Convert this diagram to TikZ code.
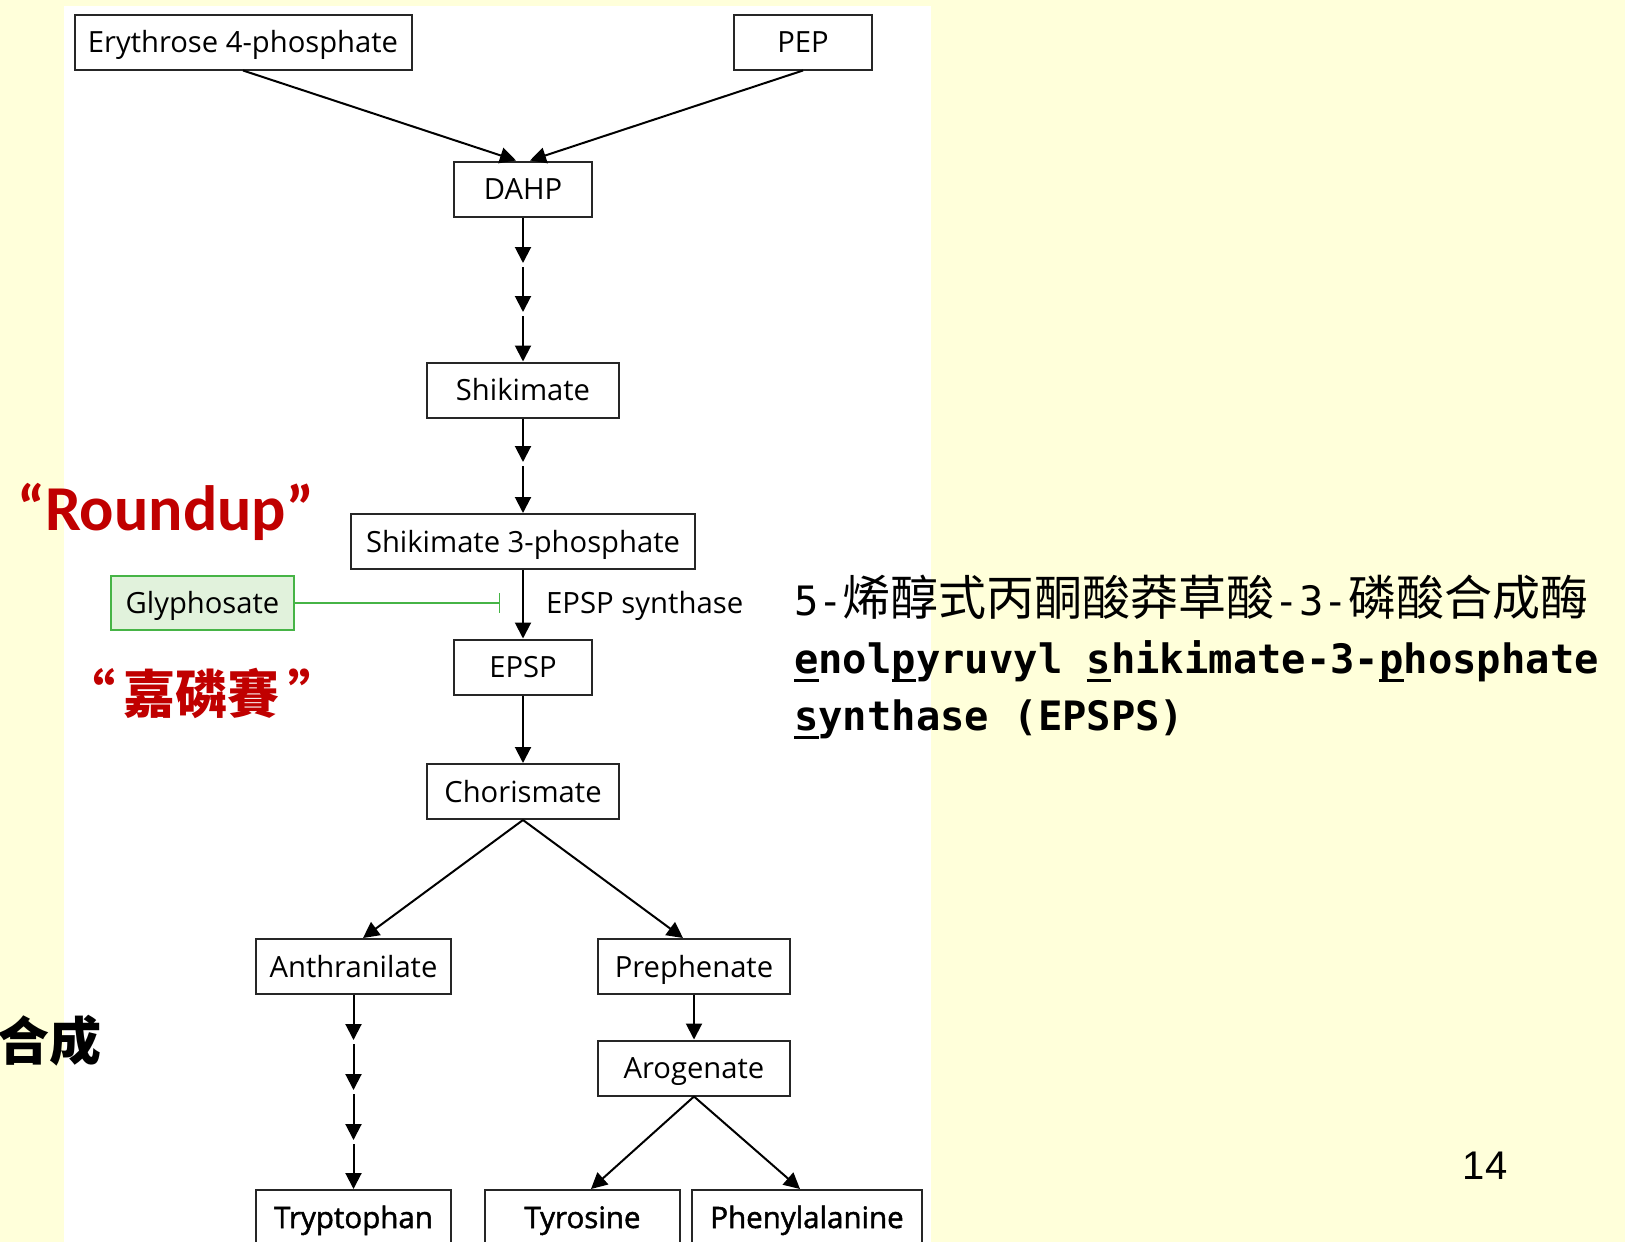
\documentclass[tikz,border=0pt]{standalone}
\usepackage{fontspec}
\setmainfont{Open Sans}
\newfontfamily\boxfont{Open Sans}
\newfontfamily\boxfontb[FakeBold=1.6]{Open Sans}
\newfontfamily\roundfont{Carlito}
\newfontfamily\cjk{Noto Sans CJK SC}
\newfontfamily\cjktc{Noto Sans CJK TC}
\newfontfamily\monofont{DejaVu Sans Mono}
\newfontfamily\numfont{Liberation Sans}
\usetikzlibrary{positioning, arrows.meta, calc}
\definecolor{slidebg}{RGB}{255,255,218}
\definecolor{roundred}{RGB}{192,0,0}
\definecolor{glyline}{RGB}{70,180,70}
\definecolor{glyfill}{RGB}{225,242,220}
\newcommand\halfw[1]{{\monofont\fontsize{40.5}{48}\selectfont #1}}
\newcommand\fullw[1]{{\cjk\fontsize{48}{52}\selectfont #1}}
\newcommand\ulchar[1]{\setbox0\hbox{#1}\rlap{\rule[-9pt]{\wd0}{3pt}}\box0}

\begin{document}
\begin{tikzpicture}[x=1pt, y=-1pt,
        box/.style={rectangle, draw=black!85, line width=2pt, inner sep=0pt, minimum height=55pt, text height=21pt, text depth=0pt, font=\boxfont\fontsize{29.2}{34}\selectfont},
        endbox/.style={box, font=\boxfontb\fontsize{29.5}{34}\selectfont},
        glybox/.style={box, draw=glyline, fill=glyfill, minimum height=54pt},
        flow/.style={-{Triangle[length=16pt, width=16pt]}, line width=2pt},
        inhibit/.style={-{Bar[width=20pt]}, draw=glyline, line width=1.5pt},
    ]
    % slide background and white panel
    \fill[slidebg] (0,0) rectangle (1625,1242);
    \fill[white] (64,6) rectangle (931,1242);
    \useasboundingbox (0,0) rectangle (1625,1242);

    % Pathway boxes
    \node[box, minimum width=337pt] (e4p) at (243,42) {Erythrose 4-phosphate};
    \node[box, minimum width=138pt] (pep) at (803,42) {PEP};
    \node[box, minimum width=138pt] (dahp) at (523,189) {DAHP};
    \node[box, minimum width=192pt] (shik) at (523,390) {Shikimate};
    \node[box, minimum width=344pt] (s3p) at (523,541.5) {Shikimate 3-phosphate};
    \node[glybox, minimum width=183pt] (gly) at (202.5,603) {Glyphosate};
    \node[box, minimum width=138pt] (epsp) at (523,667) {EPSP};
    \node[box, minimum width=192pt] (chor) at (523,791.5) {Chorismate};
    \node[box, minimum width=195pt] (anth) at (353.5,966.5) {Anthranilate};
    \node[box, minimum width=192pt] (preph) at (694,966.5) {Prephenate};
    \node[box, minimum width=192pt] (arog) at (694,1068) {Arogenate};
    \node[endbox, minimum width=195pt] (trp) at (353.5,1217.5) {Tryptophan};
    \node[endbox, minimum width=195pt] (tyr) at (582.5,1217.5) {Tyrosine};
    \node[endbox, minimum width=230pt] (phe) at (807,1217.5) {Phenylalanine};

    % Arrows
    \draw[flow] (e4p.south) -- ([xshift=-7pt]dahp.north);
    \draw[flow] (pep.south) -- ([xshift=7pt]dahp.north);

    \coordinate (d1) at (523,263); \coordinate (d2) at (523,312);
    \draw[flow] (dahp) -- (d1);
    \draw[flow, shorten <=4pt] (d1) -- (d2);
    \draw[flow, shorten <=4pt] (d2) -- (shik);

    \coordinate (s1) at (523,462);
    \draw[flow] (shik) -- (s1);
    \draw[flow, shorten <=4pt] (s1) -- (s3p);

    \draw[flow] (s3p) -- (epsp);
    \coordinate (inh) at (500,603);
    \draw[inhibit] (gly) -- (inh);
    \node[anchor=west, inner sep=0pt, text height=21pt, text depth=0pt, font=\boxfont\fontsize{29.3}{34}\selectfont] (enzyme) at (546,603) {EPSP synthase};

    \draw[flow] (epsp) -- (chor);
    \draw[flow] (chor.south) -- ([xshift=9.5pt]anth.north);
    \draw[flow] (chor.south) -- ([xshift=-11pt]preph.north);

    \coordinate (a1) at (353.5,1040); \coordinate (a2) at (353.5,1090); \coordinate (a3) at (353.5,1140);
    \draw[flow] (anth) -- (a1);
    \draw[flow, shorten <=4pt] (a1) -- (a2);
    \draw[flow, shorten <=4pt] (a2) -- (a3);
    \draw[flow, shorten <=4pt] (a3) -- (trp);

    \draw[flow] (preph) -- (arog);
    \draw[flow] (arog.south) -- ([xshift=8.5pt]tyr.north);
    \draw[flow] (arog.south) -- ([xshift=-7pt]phe.north);

    % Slide labels
    \node[anchor=west, inner sep=0pt, text=roundred, font=\roundfont\bfseries\fontsize{64}{70}\selectfont] (roundup) at (17,512) {“Roundup”};
    \node[inner sep=0pt, text=roundred, font=\cjktc\bfseries\fontsize{52}{56}\selectfont] (jialinsai) at (202,693) {“\,嘉磷賽\,”};
    \node[anchor=east, inner sep=0pt, font=\cjk\bfseries\fontsize{52}{56}\selectfont] (hecheng) at (102,1041) {合成};

    \node[anchor=base west, inner sep=0pt] (zhname) at (794,615) {\halfw{5-}\fullw{烯醇式丙酮酸莽草酸}\halfw{-3-}\fullw{磷酸合成酶}};
    \node[anchor=base west, inner sep=0pt, font=\monofont\bfseries\fontsize{40.5}{48}\selectfont] (enname) at (794,673) {\ulchar{e}nol\ulchar{p}yruvyl \ulchar{s}hikimate-3-\ulchar{p}hosphate};
    \node[anchor=base west, inner sep=0pt, font=\monofont\bfseries\fontsize{40.5}{48}\selectfont] (enname2) at (794,730) {\ulchar{s}ynthase (EPSPS)};

    \node[inner sep=0pt, font=\numfont\fontsize{40}{48}\selectfont] (pagenum) at (1485,1166) {14};
\end{tikzpicture}
\end{document}
